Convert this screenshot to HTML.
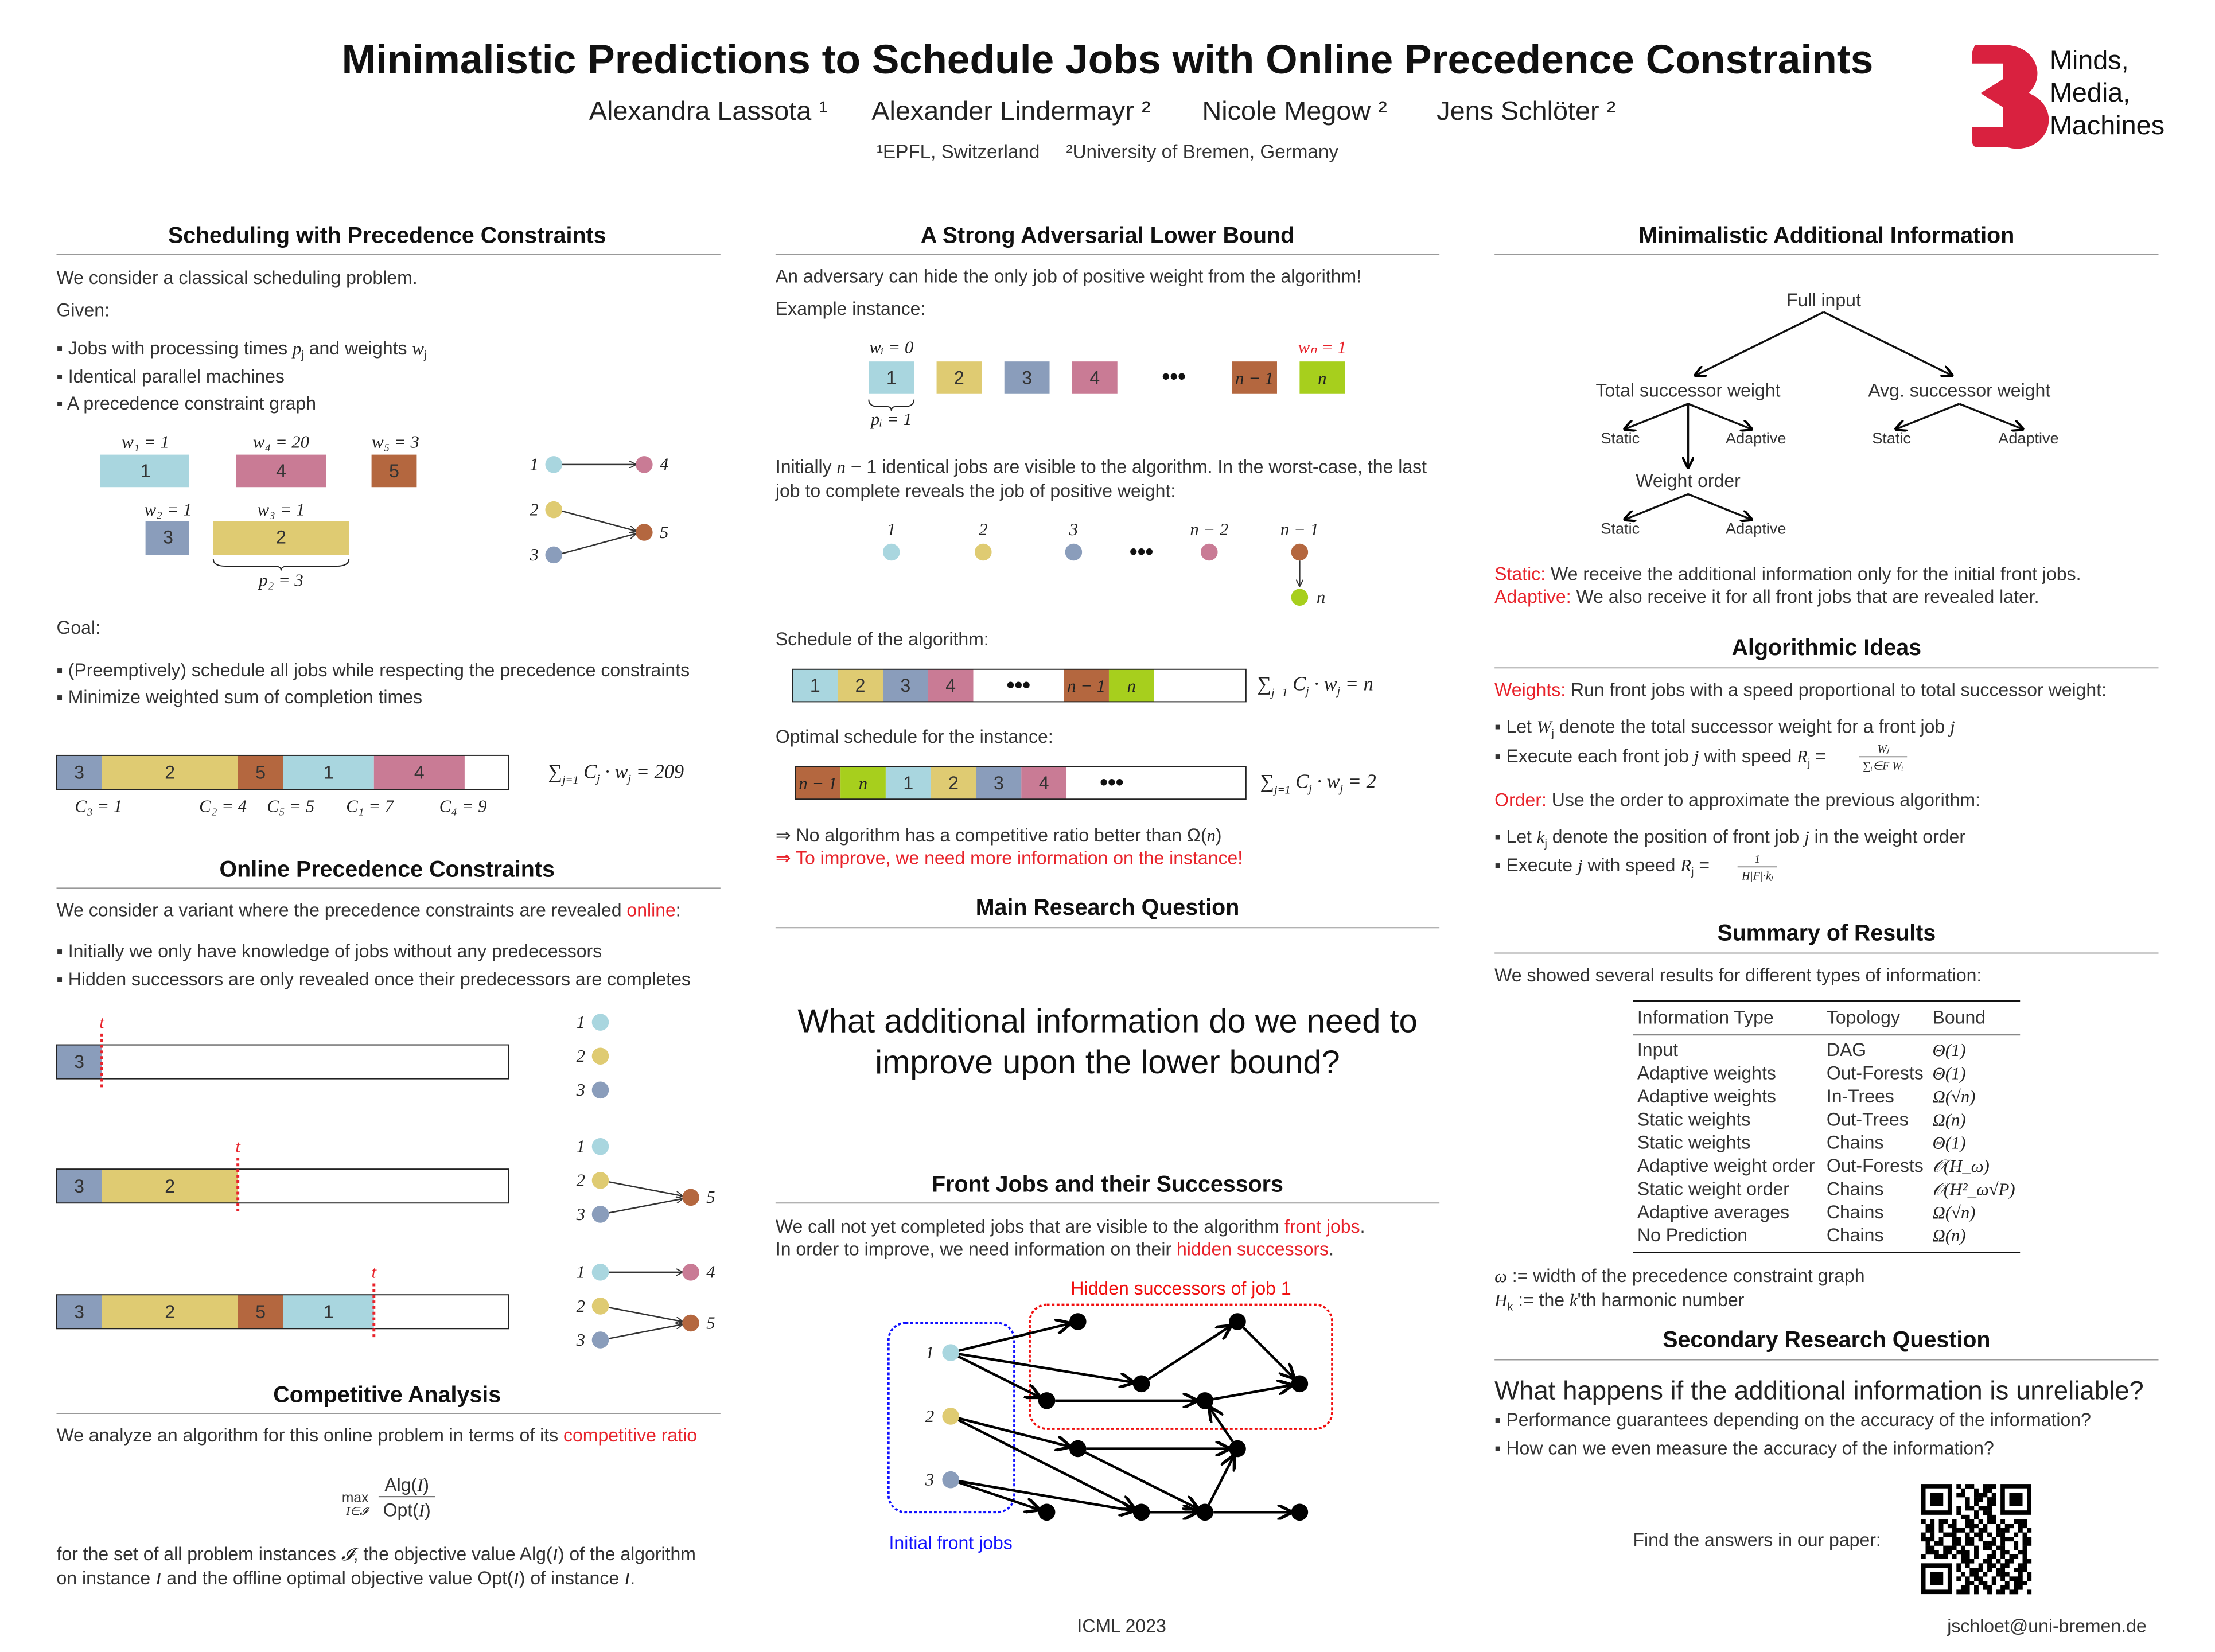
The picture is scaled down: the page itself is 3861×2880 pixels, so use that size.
<!DOCTYPE html>
<html><head><meta charset="utf-8"><style>
html,body{margin:0;padding:0;background:#fff}
svg{display:block}
text{font-family:"Liberation Sans",sans-serif;fill:#333}
.h{font-weight:bold;font-size:16px;fill:#111;text-anchor:middle}
.t{font-size:13px}
.m{font-family:"Liberation Serif",serif;font-style:italic;font-size:12.5px;fill:#222}
.s{font-size:11px}
.c{text-anchor:middle}
.red{fill:#e8232b}
.rule{stroke:#999;stroke-width:0.8}
</style></head><body>
<svg id="poster" width="3861" height="2880" viewBox="0 0 1568 1170" preserveAspectRatio="none" xmlns="http://www.w3.org/2000/svg">
<defs>
<marker id="ar" viewBox="0 0 10 10" refX="9" refY="5" markerWidth="6" markerHeight="6" orient="auto"><path d="M0,0L10,5L0,10" fill="none" stroke="#000" stroke-width="2"/></marker>
<marker id="ar2" viewBox="0 0 10 10" refX="9" refY="5" markerWidth="5" markerHeight="5" orient="auto"><path d="M0,0L10,5L0,10" fill="none" stroke="#333" stroke-width="1.5"/></marker>
</defs>
<rect width="1568" height="1170" fill="#fff"/>
<!-- header -->
<text x="784" y="52" text-anchor="middle" style="font-size:29px;font-weight:bold;fill:#111">Minimalistic Predictions to Schedule Jobs with Online Precedence Constraints</text>
<g>
<text x="417" y="85" style="font-size:19px;fill:#222">Alexandra Lassota ¹</text>
<text x="617" y="85" style="font-size:19px;fill:#222">Alexander Lindermayr ²</text>
<text x="851" y="85" style="font-size:19px;fill:#222">Nicole Megow ²</text>
<text x="1017" y="85" style="font-size:19px;fill:#222">Jens Schlöter ²</text>
</g>
<text x="784" y="112" text-anchor="middle" style="font-size:13.5px">¹EPFL, Switzerland &#160;&#160;&#160; ²University of Bremen, Germany</text>
<g>
<path d="M1398,32 L1420,32 A22,20 0 0 1 1436,66 A22,20 0 0 1 1420,104 L1398,104 A6,6 0 0 1 1396,98 L1396,90 L1418,90 L1418,76 L1402,66 L1418,56 L1418,45 L1396,45 L1396,37 Z" fill="#d9213f"/>
<text x="1451" y="49" style="font-size:19px;fill:#111">Minds,</text>
<text x="1451" y="72" style="font-size:19px;fill:#111">Media,</text>
<text x="1451" y="95" style="font-size:19px;fill:#111">Machines</text>
</g>

<!-- column 1 -->
<g>
<text class="h" x="274" y="172">Scheduling with Precedence Constraints</text>
<line class="rule" x1="40" y1="180" x2="510" y2="180"/>
<text class="t" x="40" y="201">We consider a classical scheduling problem.</text>
<text class="t" x="40" y="224">Given:</text>
<text class="t" x="40" y="251">▪ Jobs with processing times <tspan class="m">p</tspan><tspan style="font-size:8px" dy="3">j</tspan><tspan dy="-3"> and weights </tspan><tspan class="m">w</tspan><tspan style="font-size:8px" dy="3">j</tspan></text>
<text class="t" x="40" y="271">▪ Identical parallel machines</text>
<text class="t" x="40" y="290">▪ A precedence constraint graph</text>
<text class="m c" x="103" y="317">w₁ = 1</text>
<text class="m c" x="199" y="317">w₄ = 20</text>
<text class="m c" x="280" y="317">w₅ = 3</text>
<text class="m c" x="119" y="365">w₂ = 1</text>
<text class="m c" x="199" y="365">w₃ = 1</text>
<rect x="71" y="322" width="63" height="23" fill="#a9d6df"/><text class="t c" x="103" y="338">1</text>
<rect x="167" y="322" width="64" height="23" fill="#c97b95"/><text class="t c" x="199" y="338">4</text>
<rect x="263" y="322" width="32" height="23" fill="#b4673f"/><text class="t c" x="279" y="338">5</text>
<rect x="103" y="369" width="31" height="24" fill="#8a9dbb"/><text class="t c" x="119" y="385">3</text>
<rect x="151" y="369" width="96" height="24" fill="#dfcb72"/><text class="t c" x="199" y="385">2</text>
<path d="M151,396 Q151,401 160,401 L194,401 Q199,401 199,404 Q199,401 204,401 L238,401 Q247,401 247,396" fill="none" stroke="#222" stroke-width="0.8"/>
<text class="m c" x="199" y="415">p₂ = 3</text>
<g>
<line x1="398" y1="329" x2="450" y2="329" stroke="#333" marker-end="url(#ar2)"/>
<line x1="398" y1="362" x2="450" y2="376" stroke="#333" marker-end="url(#ar2)"/>
<line x1="398" y1="392" x2="450" y2="378" stroke="#333" marker-end="url(#ar2)"/>
<circle cx="392" cy="329" r="6" fill="#a9d6df"/><circle cx="456" cy="329" r="6" fill="#c97b95"/>
<circle cx="392" cy="361" r="6" fill="#dfcb72"/><circle cx="392" cy="393" r="6" fill="#8a9dbb"/><circle cx="456" cy="377" r="6" fill="#b4673f"/>
<text class="m" x="375" y="333">1</text><text class="m" x="467" y="333">4</text><text class="m" x="375" y="365">2</text><text class="m" x="375" y="397">3</text><text class="m" x="467" y="381">5</text>
</g>
<text class="t" x="40" y="449">Goal:</text>
<text class="t" x="40" y="479">▪ (Preemptively) schedule all jobs while respecting the precedence constraints</text>
<text class="t" x="40" y="498">▪ Minimize weighted sum of completion times</text>
<g id="gantt-main"></g>
<text class="m" x="53" y="575">C₃ = 1</text><text class="m" x="141" y="575">C₂ = 4</text><text class="m" x="189" y="575">C₅ = 5</text><text class="m" x="245" y="575">C₁ = 7</text><text class="m" x="311" y="575">C₄ = 9</text>
<text class="m" x="388" y="551" style="font-size:14px">∑<tspan style="font-size:8px" dy="4">j=1</tspan><tspan dy="-4"> C</tspan><tspan style="font-size:8px" dy="3">j</tspan><tspan dy="-3"> · w</tspan><tspan style="font-size:8px" dy="3">j</tspan><tspan dy="-3"> = 209</tspan></text>
</g>

<g>
<text class="h" x="274" y="621">Online Precedence Constraints</text>
<line class="rule" x1="40" y1="629" x2="510" y2="629"/>
<text class="t" x="40" y="649">We consider a variant where the precedence constraints are revealed <tspan class="red">online</tspan>:</text>
<text class="t" x="40" y="678">▪ Initially we only have knowledge of jobs without any predecessors</text>
<text class="t" x="40" y="698">▪ Hidden successors are only revealed once their predecessors are completes</text>
<g id="timelines"></g>
<g>
<circle cx="425" cy="724" r="6" fill="#a9d6df"/><circle cx="425" cy="748" r="6" fill="#dfcb72"/><circle cx="425" cy="772" r="6" fill="#8a9dbb"/>
<text class="m" x="408" y="728">1</text><text class="m" x="408" y="752">2</text><text class="m" x="408" y="776">3</text>
<line x1="431" y1="837" x2="483" y2="847" stroke="#333" marker-end="url(#ar2)"/><line x1="431" y1="859" x2="483" y2="849" stroke="#333" marker-end="url(#ar2)"/>
<circle cx="425" cy="812" r="6" fill="#a9d6df"/><circle cx="425" cy="836" r="6" fill="#dfcb72"/><circle cx="425" cy="860" r="6" fill="#8a9dbb"/><circle cx="489" cy="848" r="6" fill="#b4673f"/>
<text class="m" x="408" y="816">1</text><text class="m" x="408" y="840">2</text><text class="m" x="408" y="864">3</text><text class="m" x="500" y="852">5</text>
<line x1="431" y1="901" x2="483" y2="901" stroke="#333" marker-end="url(#ar2)"/>
<line x1="431" y1="926" x2="483" y2="936" stroke="#333" marker-end="url(#ar2)"/><line x1="431" y1="948" x2="483" y2="938" stroke="#333" marker-end="url(#ar2)"/>
<circle cx="425" cy="901" r="6" fill="#a9d6df"/><circle cx="489" cy="901" r="6" fill="#c97b95"/><circle cx="425" cy="925" r="6" fill="#dfcb72"/><circle cx="425" cy="949" r="6" fill="#8a9dbb"/><circle cx="489" cy="937" r="6" fill="#b4673f"/>
<text class="m" x="408" y="905">1</text><text class="m" x="500" y="905">4</text><text class="m" x="408" y="929">2</text><text class="m" x="408" y="953">3</text><text class="m" x="500" y="941">5</text>
</g>
</g>

<g>
<text class="h" x="274" y="993">Competitive Analysis</text>
<line class="rule" x1="40" y1="1001" x2="510" y2="1001"/>
<text class="t" x="40" y="1021">We analyze an algorithm for this online problem in terms of its <tspan class="red">competitive ratio</tspan></text>
<text class="t" x="242" y="1064" style="font-size:10px">max</text>
<text class="m" x="245" y="1073" style="font-size:8px">I∈𝓘</text>
<text class="t c" x="288" y="1056">Alg(<tspan class="m">I</tspan>)</text>
<line x1="268" y1="1060" x2="308" y2="1060" stroke="#222" stroke-width="0.7"/>
<text class="t c" x="288" y="1074">Opt(<tspan class="m">I</tspan>)</text>
<text class="t" x="40" y="1105">for the set of all problem instances <tspan class="m">𝓘</tspan>, the objective value Alg(<tspan class="m">I</tspan>) of the algorithm</text>
<text class="t" x="40" y="1122">on instance <tspan class="m">I</tspan> and the offline optimal objective value Opt(<tspan class="m">I</tspan>) of instance <tspan class="m">I</tspan>.</text>
</g>

<!-- column 2 -->
<g>
<text class="h" x="784" y="172">A Strong Adversarial Lower Bound</text>
<line class="rule" x1="549" y1="180" x2="1019" y2="180"/>
<text class="t" x="549" y="200">An adversary can hide the only job of positive weight from the algorithm!</text>
<text class="t" x="549" y="223">Example instance:</text>
<text class="m c" x="631" y="250">wᵢ = 0</text>
<text class="m c red" x="936" y="250">wₙ = 1</text>
<g id="example-boxes"></g>
<text class="t c" x="831" y="272" style="font-size:16px;font-weight:bold;fill:#111">•••</text>
<path d="M615,283 Q615,288 622,288 L628,288 Q631,288 631,291 Q631,288 634,288 L640,288 Q647,288 647,283" fill="none" stroke="#222" stroke-width="0.8"/>
<text class="m c" x="631" y="301">pᵢ = 1</text>
<text class="t" x="549" y="335">Initially <tspan class="m">n</tspan> − 1 identical jobs are visible to the algorithm. In the worst-case, the last</text>
<text class="t" x="549" y="352">job to complete reveals the job of positive weight:</text>
<text class="m c" x="631" y="379">1</text><text class="m c" x="696" y="379">2</text><text class="m c" x="760" y="379">3</text><text class="m c" x="856" y="379">n − 2</text><text class="m c" x="920" y="379">n − 1</text>
<circle cx="631" cy="391" r="6" fill="#a9d6df"/><circle cx="696" cy="391" r="6" fill="#dfcb72"/><circle cx="760" cy="391" r="6" fill="#8a9dbb"/><circle cx="856" cy="391" r="6" fill="#c97b95"/><circle cx="920" cy="391" r="6" fill="#b4673f"/>
<text class="c" x="808" y="396" style="font-size:16px;font-weight:bold;fill:#111">•••</text>
<line x1="920" y1="397" x2="920" y2="415" stroke="#333" marker-end="url(#ar2)"/>
<circle cx="920" cy="423" r="6" fill="#a7cf1d"/><text class="m" x="932" y="427">n</text>
<text class="t" x="549" y="457">Schedule of the algorithm:</text>
<g id="alg-bar"></g>
<text class="m" x="890" y="489" style="font-size:14px">∑<tspan style="font-size:8px" dy="4">j=1</tspan><tspan dy="-4"> C</tspan><tspan style="font-size:8px" dy="3">j</tspan><tspan dy="-3"> · w</tspan><tspan style="font-size:8px" dy="3">j</tspan><tspan dy="-3"> = n</tspan></text>
<text class="t" x="549" y="526">Optimal schedule for the instance:</text>
<g id="opt-bar"></g>
<text class="m" x="892" y="558" style="font-size:14px">∑<tspan style="font-size:8px" dy="4">j=1</tspan><tspan dy="-4"> C</tspan><tspan style="font-size:8px" dy="3">j</tspan><tspan dy="-3"> · w</tspan><tspan style="font-size:8px" dy="3">j</tspan><tspan dy="-3"> = 2</tspan></text>
<text class="t" x="549" y="596">⇒ No algorithm has a competitive ratio better than Ω(<tspan class="m">n</tspan>)</text>
<text class="t red" x="549" y="612">⇒ To improve, we need more information on the instance!</text>
</g>
<g>
<text class="h" x="784" y="648">Main Research Question</text>
<line class="rule" x1="549" y1="657" x2="1019" y2="657"/>
<text class="c" x="784" y="731" style="font-size:23.5px;fill:#111">What additional information do we need to</text>
<text class="c" x="784" y="760" style="font-size:23.5px;fill:#111">improve upon the lower bound?</text>
</g>
<g>
<text class="h" x="784" y="844">Front Jobs and their Successors</text>
<line class="rule" x1="549" y1="852" x2="1019" y2="852"/>
<text class="t" x="549" y="873">We call not yet completed jobs that are visible to the algorithm <tspan class="red">front jobs</tspan>.</text>
<text class="t" x="549" y="889">In order to improve, we need information on their <tspan class="red">hidden successors</tspan>.</text>
<rect x="629" y="937" width="89" height="134" rx="12" fill="none" stroke="#1010ff" stroke-width="1.5" stroke-dasharray="2,1.5"/>
<rect x="729" y="924" width="214" height="88" rx="12" fill="none" stroke="#f01010" stroke-width="1.5" stroke-dasharray="2,1.5"/>
<text class="t c" x="836" y="917" style="fill:#f01010">Hidden successors of job 1</text>
<text class="t c" x="673" y="1097" style="fill:#1010ff">Initial front jobs</text>
<g id="dag"></g>
</g>

<!-- column 3 -->
<g>
<text class="h" x="1293" y="172">Minimalistic Additional Information</text>
<line class="rule" x1="1058" y1="180" x2="1528" y2="180"/>
<g stroke="#111" stroke-width="1.4" fill="none">
<line x1="1291" y1="221" x2="1200" y2="266" marker-end="url(#ar)"/>
<line x1="1291" y1="221" x2="1382" y2="266" marker-end="url(#ar)"/>
<line x1="1195" y1="286" x2="1150" y2="304" marker-end="url(#ar)"/>
<line x1="1195" y1="286" x2="1240" y2="304" marker-end="url(#ar)"/>
<line x1="1195" y1="286" x2="1195" y2="331" marker-end="url(#ar)"/>
<line x1="1387" y1="286" x2="1342" y2="304" marker-end="url(#ar)"/>
<line x1="1387" y1="286" x2="1432" y2="304" marker-end="url(#ar)"/>
<line x1="1195" y1="350" x2="1150" y2="368" marker-end="url(#ar)"/>
<line x1="1195" y1="350" x2="1240" y2="368" marker-end="url(#ar)"/>
</g>
<text class="t c" x="1291" y="217">Full input</text>
<text class="t c" x="1195" y="281">Total successor weight</text>
<text class="t c" x="1387" y="281">Avg. successor weight</text>
<text class="t c" x="1195" y="345">Weight order</text>
<text class="s c" x="1147" y="314">Static</text><text class="s c" x="1243" y="314">Adaptive</text>
<text class="s c" x="1339" y="314">Static</text><text class="s c" x="1436" y="314">Adaptive</text>
<text class="s c" x="1147" y="378">Static</text><text class="s c" x="1243" y="378">Adaptive</text>
<text class="t" x="1058" y="411"><tspan class="red">Static:</tspan> We receive the additional information only for the initial front jobs.</text>
<text class="t" x="1058" y="427"><tspan class="red">Adaptive:</tspan> We also receive it for all front jobs that are revealed later.</text>
</g>
<g>
<text class="h" x="1293" y="464">Algorithmic Ideas</text>
<line class="rule" x1="1058" y1="473" x2="1528" y2="473"/>
<text class="t" x="1058" y="493"><tspan class="red">Weights:</tspan> Run front jobs with a speed proportional to total successor weight:</text>
<text class="t" x="1058" y="519">▪ Let <tspan class="m">W</tspan><tspan style="font-size:8px" dy="3">j</tspan><tspan dy="-3"> denote the total successor weight for a front job </tspan><tspan class="m">j</tspan></text>
<text class="t" x="1058" y="540">▪ Execute each front job <tspan class="m">j</tspan> with speed <tspan class="m">R</tspan><tspan style="font-size:8px" dy="3">j</tspan><tspan dy="-3"> = </tspan></text>
<text class="m c" x="1333" y="533" style="font-size:8px">Wⱼ</text>
<line x1="1316" y1="536" x2="1350" y2="536" stroke="#222" stroke-width="0.6"/>
<text class="m c" x="1333" y="545" style="font-size:8px">∑ᵢ∈F Wᵢ</text>
<text class="t" x="1058" y="571"><tspan class="red">Order:</tspan> Use the order to approximate the previous algorithm:</text>
<text class="t" x="1058" y="597">▪ Let <tspan class="m">k</tspan><tspan style="font-size:8px" dy="3">j</tspan><tspan dy="-3"> denote the position of front job </tspan><tspan class="m">j</tspan> in the weight order</text>
<text class="t" x="1058" y="617">▪ Execute <tspan class="m">j</tspan> with speed <tspan class="m">R</tspan><tspan style="font-size:8px" dy="3">j</tspan><tspan dy="-3"> = </tspan></text>
<text class="m c" x="1244" y="611" style="font-size:8px">1</text>
<line x1="1230" y1="614" x2="1258" y2="614" stroke="#222" stroke-width="0.6"/>
<text class="m c" x="1244" y="623" style="font-size:8px">H|F|·kⱼ</text>
</g>
<g>
<text class="h" x="1293" y="666">Summary of Results</text>
<line class="rule" x1="1058" y1="675" x2="1528" y2="675"/>
<text class="t" x="1058" y="695">We showed several results for different types of information:</text>
<g>
<line x1="1156" y1="709" x2="1430" y2="709" stroke="#111" stroke-width="1"/>
<text class="t" x="1159" y="725">Information Type</text><text class="t" x="1293" y="725">Topology</text><text class="t" x="1368" y="725">Bound</text>
<line x1="1156" y1="733" x2="1430" y2="733" stroke="#111" stroke-width="0.7"/>
<g id="rows"></g>
<line x1="1156" y1="887" x2="1430" y2="887" stroke="#111" stroke-width="1"/>
</g>
<text class="t" x="1058" y="908"><tspan class="m">ω</tspan> := width of the precedence constraint graph</text>
<text class="t" x="1058" y="925"><tspan class="m">H</tspan><tspan style="font-size:8px" dy="3">k</tspan><tspan dy="-3"> := the </tspan><tspan class="m">k</tspan>'th harmonic number</text>
</g>
<g>
<text class="h" x="1293" y="954">Secondary Research Question</text>
<line class="rule" x1="1058" y1="963" x2="1528" y2="963"/>
<text x="1058" y="991" style="font-size:18.5px;fill:#222">What happens if the additional information is unreliable?</text>
<text class="t" x="1058" y="1010">▪ Performance guarantees depending on the accuracy of the information?</text>
<text class="t" x="1058" y="1030">▪ How can we even measure the accuracy of the information?</text>
<text class="t" x="1156" y="1095">Find the answers in our paper:</text>
<g id="qr"></g>
</g>
<text class="t c" x="794" y="1156">ICML 2023</text>
<text class="t c" x="1449" y="1156">jschloet@uni-bremen.de</text>
</svg>
<script>
var NS='http://www.w3.org/2000/svg';
var COL={'1':'#a9d6df','2':'#dfcb72','3':'#8a9dbb','4':'#c97b95','5':'#b4673f','n-1':'#b4673f','n':'#a7cf1d','dots':'#fff'};
// data arrays
var mainJobs=['3','2','5','1','4'];
var mainDur=[1,3,1,2,2];
var t1Jobs=['3'];var t1Dur=[1];var t1Time=1;
var t2Jobs=['3','2'];var t2Dur=[1,3];var t2Time=4;
var t3Jobs=['3','2','5','1'];var t3Dur=[1,3,1,2];var t3Time=7;
var exJobs=['1','2','3','4','dots','n-1','n'];
var algJobs=['1','2','3','4','dots','n-1','n'];var algDur=[1,1,1,1,2,1,1];
var optJobs=['n-1','n','1','2','3','4','dots'];var optDur=[1,1,1,1,1,1,2];
var tblType=['Input','Adaptive weights','Adaptive weights','Static weights','Static weights','Adaptive weight order','Static weight order','Adaptive averages','No Prediction'];
var tblTopo=['DAG','Out-Forests','In-Trees','Out-Trees','Chains','Out-Forests','Chains','Chains','Chains'];
var tblBound=['Θ(1)','Θ(1)','Ω(√n)','Ω(n)','Θ(1)','𝒪(H_ω)','𝒪(H²_ω√P)','Ω(√n)','Ω(n)'];

function el(tag,attrs,parent,txt){var e=document.createElementNS(NS,tag);for(var k in attrs)e.setAttribute(k,attrs[k]);if(txt!==undefined)e.textContent=txt;parent.appendChild(e);return e;}
function lab(j){return j==='n-1'?'n − 1':j;}
function gantt(g,jobs,dur,x0,y0,unit,h,endX){
  var x=x0;
  for(var i=0;i<jobs.length;i++){
    var w=dur[i]*unit;
    var r=el('rect',{x:x,y:y0,width:w,height:h,fill:COL[jobs[i]]},g);
    
    
    if(jobs[i]==='dots'){el('text',{x:x+w/2,y:y0+h/2+5,'text-anchor':'middle',style:'font-size:16px;font-weight:bold;fill:#111'},g,'•••');}
    else{var isM=(jobs[i]==='n'||jobs[i]==='n-1');el('text',{x:x+w/2,y:y0+h/2+4.5,'text-anchor':'middle','class':isM?'m':'t'},g,lab(jobs[i]));}
    x+=w;
  }
  el('rect',{x:x0,y:y0,width:endX-x0,height:h,fill:'none',stroke:'#222','stroke-width':0.8},g);
}
gantt(document.getElementById('gantt-main'),mainJobs,mainDur,40,535,32.1,24,360);
var tl=document.getElementById('timelines');
[[t1Jobs,t1Dur,t1Time,740],[t2Jobs,t2Dur,t2Time,828],[t3Jobs,t3Dur,t3Time,917]].forEach(function(r){
  gantt(tl,r[0],r[1],40,r[3],32.1,24,360);
  var tx=40+r[2]*32.1;
  var ln=el('line',{x1:tx,y1:r[3]-8,x2:tx,y2:r[3]+32,stroke:'#e8232b','stroke-width':2,'stroke-dasharray':'2,2'},tl);
  
  
  el('text',{x:tx,y:r[3]-12,'text-anchor':'middle','class':'m',style:'fill:#e8232b'},tl,'t');
});
var ex=document.getElementById('example-boxes');
var exX=[615,663,711,759,0,872,920];
exJobs.forEach(function(j,i){if(j==='dots')return;
  var r=el('rect',{x:exX[i],y:256,width:32,height:23,fill:COL[j]},ex);
  
  
  var isM=(j==='n'||j==='n-1');
  el('text',{x:exX[i]+16,y:272,'text-anchor':'middle','class':isM?'m':'t'},ex,lab(j));
});
gantt(document.getElementById('alg-bar'),algJobs,algDur,561,474,32,23,882);
gantt(document.getElementById('opt-bar'),optJobs,optDur,563,543,32,23,882);
var rows=document.getElementById('rows');
for(var i=0;i<tblType.length;i++){var y=748+i*16.4;
  var t=el('text',{x:1159,y:y,'class':'t'},rows,tblType[i]);
  
  
  el('text',{x:1293,y:y,'class':'t'},rows,tblTopo[i]);
  el('text',{x:1368,y:y,'class':'m'},rows,tblBound[i]);
}
// DAG
var dag=document.getElementById('dag');
var N={s1:[673,958],s2:[673,1003],s3:[673,1048],a:[763,936],b:[741,992],c:[808,980],d:[876,936],e:[920,980],f:[853,992],g:[763,1026],h:[876,1026],i:[741,1071],j:[808,1071],k:[853,1071],l:[920,1071]};
var E=[['s1','a'],['s1','c'],['s1','b'],['c','d'],['d','e'],['b','f'],['f','e'],['s2','g'],['s2','j'],['g','h'],['g','k'],['h','f'],['s3','i'],['s3','j'],['j','k'],['k','l'],['k','h']];
E.forEach(function(p){var A=N[p[0]],B=N[p[1]];var dx=B[0]-A[0],dy=B[1]-A[1],L=Math.sqrt(dx*dx+dy*dy);
  el('line',{x1:A[0]+dx/L*6,y1:A[1]+dy/L*6,x2:B[0]-dx/L*6,y2:B[1]-dy/L*6,stroke:'#000','stroke-width':1.8,'marker-end':'url(#ar)'},dag);});
Object.keys(N).forEach(function(k){var p=N[k];var f=k==='s1'?'#a9d6df':k==='s2'?'#dfcb72':k==='s3'?'#8a9dbb':'#000';
  var c=el('circle',{cx:p[0],cy:p[1],r:6,fill:f},dag);
  
  
  if(k[0]==='s')el('text',{x:p[0]-18,y:p[1]+4,'class':'m'},dag,k[1]);});
// QR
var qr=document.getElementById('qr');var qx=1360,qy=1051,cs=78/25;
var bits='1011001110100101101100111010010110110010100111011011101000101100110100111010110100110101101001110011010110011101001011011001101001110101100111001011010011100101101011001010111010011011010010111001101011001';
var k2=0;
for(var yy=0;yy<25;yy++)for(var xx=0;xx<25;xx++){
  var inF=(xx<8&&yy<8)||(xx>16&&yy<8)||(xx<8&&yy>16);
  if(inF)continue;
  if(bits[(k2++)%bits.length]==='1')el('rect',{x:qx+xx*cs,y:qy+yy*cs,width:cs+0.1,height:cs+0.1,fill:'#000'},qr);
}
[[0,0],[18,0],[0,18]].forEach(function(f){
  el('rect',{x:qx+f[0]*cs,y:qy+f[1]*cs,width:7*cs,height:7*cs,fill:'#000'},qr);
  el('rect',{x:qx+(f[0]+1)*cs,y:qy+(f[1]+1)*cs,width:5*cs,height:5*cs,fill:'#fff'},qr);
  el('rect',{x:qx+(f[0]+2)*cs,y:qy+(f[1]+2)*cs,width:3*cs,height:3*cs,fill:'#000'},qr);
});
</script>
</body></html>
